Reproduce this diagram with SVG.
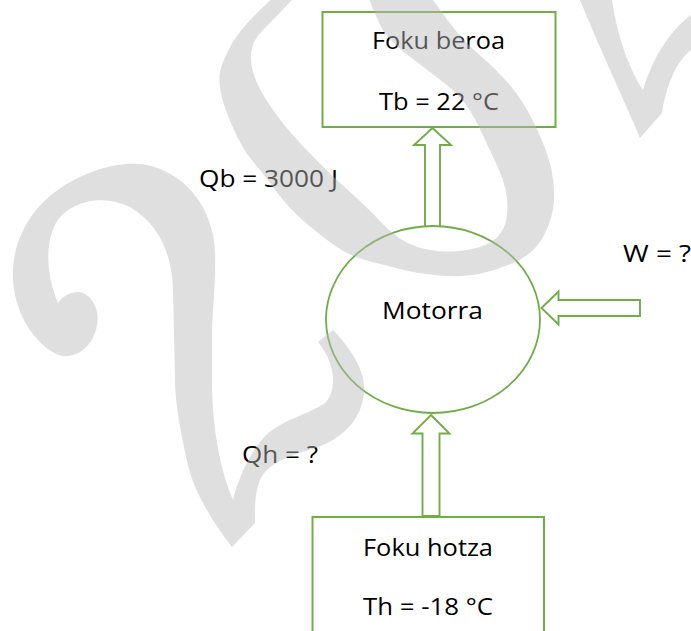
<svg xmlns="http://www.w3.org/2000/svg" width="691" height="631" viewBox="0 0 691 631">
<style>
.box{fill:#fff;stroke:#70AD47;stroke-width:2}
.ell{fill:#fff;stroke:#70AD47;stroke-width:1.8}
.arr{fill:#fff;stroke:#70AD47;stroke-width:1.9;stroke-linejoin:miter}
.t{font-family:"Open Sans","Liberation Sans",sans-serif;font-size:23px;fill:#000}
.wm{fill:#b9b9b9;fill-opacity:0.46;stroke:none}
</style>
<rect x="0" y="0" width="691" height="631" fill="#fff"/>
<g id="connectors">
  <polygon id="arrow-qb" class="arr" points="432.5,128 451,145 440,145 440,227 425,227 425,145 414,145"/>
  <polygon id="arrow-qh" class="arr" points="431,415 449.5,433.5 439.5,433.5 439.5,516 422.5,516 422.5,433.5 412.5,433.5"/>
  <polygon id="arrow-w" class="arr" points="541.5,308 558.5,291.5 558.5,300 640,300 640,316 558.5,316 558.5,324.5"/>
</g>
<g id="node-foku-beroa">
  <rect class="box" x="322.5" y="12" width="233" height="115"/>
  <text class="t" x="372" y="49" textLength="133" lengthAdjust="spacingAndGlyphs">Foku beroa</text>
  <text class="t" x="379" y="110" textLength="120" lengthAdjust="spacingAndGlyphs">Tb = 22 °C</text>
</g>
<g id="node-motorra">
  <ellipse class="ell" cx="433" cy="319.5" rx="107" ry="93.5"/>
  <text class="t" x="382" y="319" textLength="101" lengthAdjust="spacingAndGlyphs">Motorra</text>
</g>
<g id="node-foku-hotza">
  <rect class="box" x="312.5" y="517" width="231.5" height="140"/>
  <text class="t" x="363" y="556" textLength="130" lengthAdjust="spacingAndGlyphs">Foku hotza</text>
  <text class="t" x="363" y="615" textLength="130" lengthAdjust="spacingAndGlyphs">Th = -18 °C</text>
</g>
<g id="labels">
  <text class="t" x="199" y="187" textLength="139" lengthAdjust="spacingAndGlyphs">Qb = 3000 J</text>
  <text class="t" x="623" y="262" textLength="68" lengthAdjust="spacingAndGlyphs">W = ?</text>
  <text class="t" x="242" y="463" textLength="76" lengthAdjust="spacingAndGlyphs">Qh = ?</text>
</g>
<g id="watermark">
  <path class="wm" d="M 62,356 C 40,350 15,318 13,280 C 11,245 28,212 55,192 C 82,172 115,162 140,164 C 175,168 205,195 213,235 C 218,260 213,300 212,330 L 212,380 C 212,420 218,465 233,500 C 238,480 248,455 265,436 C 285,418 310,414 325,403 C 338,390 335,362 318,342 L 333,330 C 352,350 366,372 364,392 C 362,418 345,437 318,447 C 292,455 268,462 260,480 C 254,495 255,512 255,523 L 232,547 C 215,525 195,495 188,465 C 180,430 175,400 175,380 L 173,290 C 172,255 160,225 130,207 C 105,195 78,200 62,215 C 45,232 44,270 58,303 C 63,296 70,292 78,292 C 92,293 100,310 97,325 C 94,345 78,358 62,356 Z"/>
  <path class="wm" d="M 307.5,-25 Q 300,-25 285,-12.5 Q 270,0 253.5,16.5 Q 237,33 228.5,50 Q 220,67 219.5,76 Q 219,85 222,97.5 Q 225,110 234,130 Q 243,150 252.5,161 Q 262,172 276,191 Q 290,210 310,226.5 Q 330,243 342.5,250.5 Q 355,258 370,261.5 Q 385,265 400,269 Q 415,273 439,275.5 Q 463,278 485,272.5 Q 507,267 522,258.5 Q 537,250 545,233.5 Q 553,217 554,201 Q 555,185 551,167.5 Q 547,150 535,125 Q 523,100 509,84 Q 495,68 478.5,54 Q 462,40 447.5,20 Q 433,0 424,-12.5 Q 415,-25 387.5,-25 Q 360,-25 367.5,-5 Q 375,15 381.5,27.5 Q 388,40 409,56 Q 430,72 448,86 Q 466,100 478,125 Q 490,150 499,170 Q 508,190 507.5,209 Q 507,228 497,237.5 Q 487,247 467,250 Q 447,253 430,250 Q 413,247 401.5,239.5 Q 390,232 378.5,219.5 Q 367,207 350,192 Q 333,177 311.5,155 Q 290,133 278.5,117.5 Q 267,102 261,91 Q 255,80 252.5,70 Q 250,60 251.5,50 Q 253,40 263,30 Q 273,20 282.5,10 Q 292,0 303.5,-12.5 Q 315,-25 307.5,-25 Z"/>
  <path class="wm" d="M 580,0 L 612,0 C 618,40 630,70 643,90 C 652,60 668,32 691,15 L 691,50 C 675,62 666,88 662,113 L 640,138 C 622,95 598,45 580,0 Z"/>
</g>
</svg>
